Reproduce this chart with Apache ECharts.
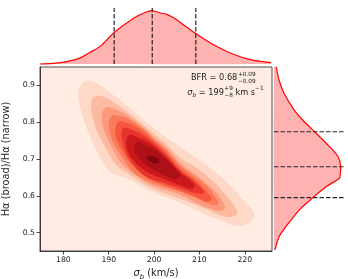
<!DOCTYPE html>
<html><head><meta charset="utf-8">
<script src="https://cdn.jsdelivr.net/npm/echarts@6/dist/echarts.min.js"></script>
<style>html,body{margin:0;padding:0;background:#fff}#c{width:348px;height:279px}</style>
</head><body><div id="c"></div>
<script>
// ---- data ----
const sigmaTicks = [180, 190, 200, 210, 220];
const bfrTicks = [0.5, 0.6, 0.7, 0.8, 0.9];
const sigmaRange = [174.85, 226];
const bfrRange = [0.45, 0.95];
const sigmaQuantiles = [191.2, 199.6, 209.2];
const bfrQuantiles = [0.595, 0.679, 0.774];
const sigmaGrid = [174.84, 177.8, 180.7, 183.7, 185.9, 188.1, 191.2, 195.5, 198.0, 199.6, 201.4, 202.8, 204.2, 205.8, 209.2, 213.1, 217.6, 221.25, 225.8];
const sigmaDensity = [0, 0.011, 0.044, 0.114, 0.22, 0.33, 0.59, 0.86, 0.966, 1.0, 0.956, 0.93, 0.87, 0.78, 0.57, 0.36, 0.177, 0.082, 0.025];
const bfrGrid = [0.950, 0.914, 0.878, 0.833, 0.806, 0.774, 0.733, 0.706, 0.679, 0.652, 0.647, 0.625, 0.595, 0.562, 0.516, 0.489, 0.453];
const bfrDensity = [0.035, 0.076, 0.152, 0.304, 0.43, 0.609, 0.837, 0.963, 1.0, 0.989, 0.979, 0.787, 0.583, 0.381, 0.178, 0.076, 0.015];
const contour1 = [[185.4,0.913],[187.0,0.909],[190.8,0.876],[194.5,0.840],[198.0,0.803],[199.6,0.787],[202.9,0.757],[206.4,0.727],[209.3,0.703],[212.4,0.676],[216.2,0.635],[219.7,0.589],[221.7,0.562],[222.1,0.545],[221.0,0.526],[219.0,0.518],[216.4,0.524],[210.2,0.556],[205.8,0.581],[199.2,0.613],[194.7,0.643],[190.1,0.667],[188.1,0.705],[186.3,0.749],[184.8,0.795],[183.7,0.841],[183.2,0.876],[183.9,0.901]];
const contour2 = [[187.4,0.872],[190.0,0.863],[193.7,0.831],[197.4,0.795],[199.6,0.772],[202.7,0.741],[205.8,0.703],[209.5,0.675],[213.1,0.638],[216.1,0.598],[217.7,0.572],[218.4,0.552],[217.3,0.543],[215.7,0.543],[210.9,0.567],[205.8,0.592],[199.2,0.622],[194.3,0.660],[191.5,0.686],[189.3,0.732],[187.4,0.777],[186.3,0.822],[186.2,0.857]];
const contour3 = [[189.3,0.840],[191.0,0.837],[193.0,0.827],[196.7,0.795],[199.6,0.763],[202.7,0.731],[205.8,0.689],[210.2,0.648],[213.9,0.607],[215.1,0.583],[215.7,0.566],[214.6,0.559],[213.1,0.562],[209.5,0.579],[205.8,0.603],[199.2,0.630],[195.8,0.657],[193.0,0.686],[191.1,0.722],[189.3,0.768],[188.4,0.813]];
const contour4 = [[190.8,0.818],[192.5,0.816],[194.4,0.809],[198.1,0.778],[199.6,0.758],[202.7,0.725],[205.8,0.682],[209.1,0.652],[211.7,0.626],[213.3,0.600],[214.2,0.579],[213.1,0.574],[210.2,0.589],[205.8,0.611],[199.2,0.637],[195.4,0.664],[192.6,0.712],[190.8,0.750],[190.0,0.795]];
const contour5 = [[192.1,0.802],[193.8,0.799],[195.9,0.789],[199.6,0.754],[202.7,0.718],[205.8,0.675],[209.1,0.642],[211.3,0.615],[212.7,0.591],[211.5,0.584],[208.7,0.600],[205.8,0.613],[199.2,0.645],[195.2,0.683],[192.5,0.734],[191.4,0.772]];
const contour6 = [[193.2,0.784],[195.0,0.780],[196.7,0.771],[199.6,0.746],[202.7,0.711],[205.8,0.668],[208.7,0.641],[211.1,0.608],[209.5,0.606],[206.9,0.616],[202.5,0.634],[198.0,0.653],[194.6,0.699],[192.9,0.754]];
const contour7 = [[194.4,0.765],[196.9,0.756],[199.6,0.739],[202.7,0.704],[205.8,0.663],[209.0,0.629],[208.1,0.619],[205.8,0.628],[201.4,0.649],[198.0,0.668],[195.2,0.699],[193.9,0.735]];
const contour8 = [[196.3,0.745],[198.3,0.737],[200.5,0.723],[203.1,0.694],[204.9,0.669],[205.8,0.656],[204.7,0.645],[202.7,0.654],[199.6,0.672],[197.2,0.695],[195.6,0.722]];
const contour9 = [[198.7,0.708],[199.8,0.708],[200.9,0.701],[201.1,0.692],[200.3,0.688],[199.2,0.692],[198.5,0.700]];
const contours = [contour1, contour2, contour3, contour4, contour5, contour6, contour7, contour8, contour9];

// ---- styles ----
const levelColors = ['#fed9c8','#fcbba1','#fc9a7b','#fb7a5a','#f6573e','#e8342a','#cb181d','#ad1117','#800610'];
const FONT = '"DejaVu Sans", sans-serif';
const TXT = '#222';
const topMax = 1.05, rightMax = 1.065;

const chart = echarts.init(document.getElementById('c'), null, {renderer: 'canvas'});

const ctx = document.createElement('canvas').getContext('2d');
function tw(t, size, italic) { ctx.font = (italic ? 'italic ' : '') + size + 'px "DejaVu Sans"'; return ctx.measureText(t).width; }
function txt(t, x, y, size, italic) {
  return {type: 'text', x: x, y: y, silent: true, style: {text: t, fontSize: size, fontFamily: FONT, fontStyle: italic ? 'italic' : 'normal', fill: TXT, align: 'left', verticalAlign: 'middle'}};
}
const M = 8.2, S = 5.8;
const ann = [];
let x = 191;
ann.push(txt('BFR = 0.68', x, 77.5, M));
x += tw('BFR = 0.68', M) + 0.6;
ann.push(txt('+0.09', x, 74.6, S));
ann.push(txt('\u22120.09', x, 81.2, S));
x = 187.3;
ann.push(txt('\u03c3', x, 92.6, M, true));
x += tw('\u03c3', M, true);
ann.push(txt('b', x, 95.0, S, true));
x += tw('b', S, true);
ann.push(txt(' = 199', x, 92.6, M));
x += tw(' = 199', M) + 0.5;
ann.push(txt('+9', x, 88.8, S));
ann.push(txt('\u22128', x, 95.6, S));
x += tw('+9', S);
ann.push(txt(' km s', x, 92.6, M));
x += tw(' km s', M);
ann.push(txt('\u22121', x, 88.8, S));

const axisCommon = {
  axisLine: {show: true, lineStyle: {color: TXT, width: 0.8}},
  splitLine: {show: false}
};

const option = {
  animation: false,
  backgroundColor: '#fff',
  grid: [
    {left: 40, top: 67, width: 232, height: 184, show: true, backgroundColor: '#ffede4', borderColor: TXT, borderWidth: 0.8, outerBoundsMode: 'none'},
    {left: 40, top: 8, width: 232, height: 56, outerBoundsMode: 'none'},
    {left: 274, top: 67, width: 71, height: 184, outerBoundsMode: 'none'}
  ],
  xAxis: [
    Object.assign({type: 'value', gridIndex: 0, min: sigmaRange[0], max: sigmaRange[1],
      axisTick: {show: true, inside: false, length: 3.5, lineStyle: {color: TXT, width: 0.8}, customValues: sigmaTicks},
      axisLabel: {customValues: sigmaTicks, fontSize: 7.7, fontFamily: FONT, color: TXT, margin: 5, formatter: v => String(Math.round(v))},
      name: '{i|\u03c3}{s|b}{t| (km/s)}', nameLocation: 'middle', nameGap: 14,
      nameTextStyle: {fontSize: 9.8, fontFamily: FONT, color: TXT, rich: {
        i: {fontStyle: 'italic', fontSize: 9.8, fontFamily: FONT, color: TXT, lineHeight: 13, verticalAlign: 'middle'},
        s: {fontStyle: 'italic', fontSize: 6.9, fontFamily: FONT, color: TXT, lineHeight: 13, verticalAlign: 'bottom'},
        t: {fontSize: 9.8, fontFamily: FONT, color: TXT, lineHeight: 13, verticalAlign: 'middle'}}}
    }, axisCommon),
    {type: 'value', gridIndex: 1, min: sigmaRange[0], max: sigmaRange[1], show: false, splitLine: {show: false}},
    {type: 'value', gridIndex: 2, min: 0, max: rightMax, show: false, splitLine: {show: false}}
  ],
  yAxis: [
    Object.assign({type: 'value', gridIndex: 0, min: bfrRange[0], max: bfrRange[1],
      axisTick: {show: true, inside: false, length: 3.5, lineStyle: {color: TXT, width: 0.8}, customValues: bfrTicks},
      axisLabel: {customValues: bfrTicks, fontSize: 7.7, fontFamily: FONT, color: TXT, margin: 5, formatter: v => v.toFixed(1)},
      name: 'H\u03b1 (broad)/H\u03b1 (narrow)', nameLocation: 'middle', nameGap: 22, nameRotate: 90,
      nameTextStyle: {fontSize: 9.8, fontFamily: FONT, color: TXT}
    }, axisCommon),
    {type: 'value', gridIndex: 1, min: 0, max: topMax, show: false, splitLine: {show: false}},
    {type: 'value', gridIndex: 2, min: bfrRange[0], max: bfrRange[1], show: false, splitLine: {show: false}}
  ],
  graphic: ann,
  series: [
    {
      type: 'custom', xAxisIndex: 0, yAxisIndex: 0, silent: true,
      data: contours.map((c, i) => [i]),
      renderItem: (params, api) => {
        const poly = contours[params.dataIndex];
        return {type: 'polygon', shape: {points: poly.map(p => api.coord(p)), smooth: 0.35},
          style: {fill: levelColors[params.dataIndex]}};
      }
    },
    {
      type: 'custom', xAxisIndex: 1, yAxisIndex: 1, silent: true, data: [[sigmaRange[0]]],
      renderItem: (params, api) => {
        const pts = sigmaGrid.map((s, i) => api.coord([s, sigmaDensity[i]]));
        const fill = pts.concat([api.coord([sigmaGrid[sigmaGrid.length - 1], 0]), api.coord([sigmaGrid[0], 0])]);
        return {type: 'group', children: [
          {type: 'polygon', shape: {points: fill, smooth: 0.3}, style: {fill: 'rgba(255,0,0,0.3)'}},
          {type: 'polyline', shape: {points: pts, smooth: 0.3}, style: {stroke: '#ff0000', lineWidth: 1.2, fill: null}}
        ]};
      }
    },
    {
      type: 'custom', xAxisIndex: 1, yAxisIndex: 1, silent: true, data: sigmaQuantiles.map(q => [q]),
      renderItem: (params, api) => {
        const q = api.value(0);
        const a = api.coord([q, 0]), b = api.coord([q, topMax]);
        return {type: 'line', shape: {x1: a[0], y1: a[1], x2: b[0], y2: b[1]}, style: {stroke: '#262626', lineWidth: 1.2, lineDash: [4.5, 2]}};
      }
    },
    {
      type: 'custom', xAxisIndex: 2, yAxisIndex: 2, silent: true, data: [[0]],
      renderItem: (params, api) => {
        const pts = bfrGrid.map((b, i) => api.coord([bfrDensity[i], b]));
        const fill = pts.concat([api.coord([0, bfrGrid[bfrGrid.length - 1]]), api.coord([0, bfrGrid[0]])]);
        return {type: 'group', children: [
          {type: 'polygon', shape: {points: fill, smooth: 0.3}, style: {fill: 'rgba(255,0,0,0.3)'}},
          {type: 'polyline', shape: {points: pts, smooth: 0.3}, style: {stroke: '#ff0000', lineWidth: 1.2, fill: null}}
        ]};
      }
    },
    {
      type: 'custom', xAxisIndex: 2, yAxisIndex: 2, silent: true, data: bfrQuantiles.map(q => [0, q]),
      renderItem: (params, api) => {
        const q = bfrQuantiles[params.dataIndex];
        const a = api.coord([0, q]), b = api.coord([rightMax, q]);
        return {type: 'line', shape: {x1: a[0], y1: a[1], x2: b[0], y2: b[1]}, style: {stroke: '#262626', lineWidth: 1.2, lineDash: [4.5, 2]}};
      }
    }
  ]
};
chart.setOption(option);
</script></body></html>
